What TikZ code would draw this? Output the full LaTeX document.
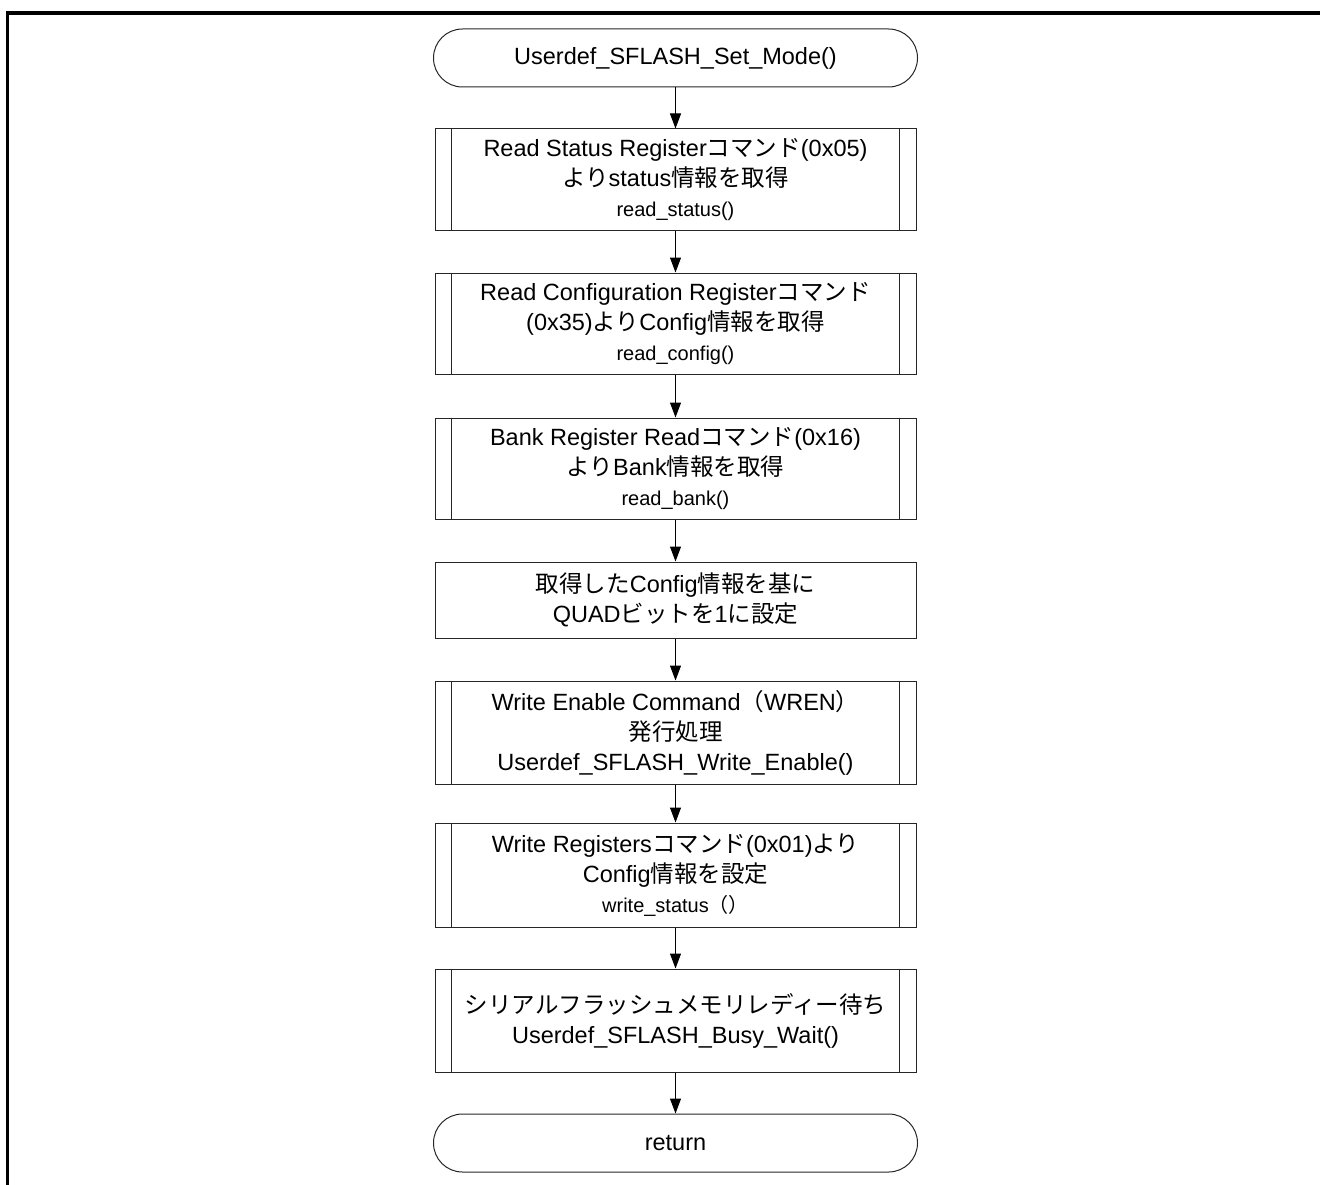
\documentclass[tikz,border=0pt]{standalone}
\usepackage{fontspec}
\setmainfont{Liberation Sans}
\newfontfamily\jp{Noto Sans CJK JP}
\newcommand\J[1]{{\jp #1}}
\usetikzlibrary{arrows.meta}
\tikzset{
  boxbase/.style={draw=black!85, line width=1pt, minimum width=481pt, inner sep=0pt, align=center,
    font=\fontsize{23.5}{30}\selectfont},
  procbox/.style={boxbase, rectangle},
  termbox/.style={boxbase, rectangle, rounded corners=28.9pt, minimum width=484pt, minimum height=58pt},
  flowarrow/.style={draw=black, line width=1pt, -{Triangle[length=15pt,width=11pt]}},
  subline/.style={draw=black!85, line width=1pt},
}
\newcommand\sm[1]{{\fontsize{20}{26}\selectfont #1}}
\begin{document}
\begin{tikzpicture}[x=1pt,y=-1pt]
\useasboundingbox (0,0) rectangle (1320,1185);
\draw[line width=3.5pt] (7.5,1185) -- (7.5,13) -- (1320,13);

\node[termbox] (start) at (675.5,58) {Userdef\_SFLASH\_Set\_Mode()};
\node[procbox, minimum height=102pt] (b1) at (675.5,180) {Read Status Register\J{コマンド}(0x05)\\\J{より}status\J{情報を取得}\\\sm{read\_status()}};
\node[procbox, minimum height=101pt] (b2) at (675.5,323.5) {Read Configuration Register\J{コマンド}\\(0x35)\J{より}Config\J{情報を取得}\\\sm{read\_config()}};
\node[procbox, minimum height=101pt] (b3) at (675.5,468.5) {Bank Register Read\J{コマンド}(0x16)\\\J{より}Bank\J{情報を取得}\\\sm{read\_bank()}};
\node[procbox, minimum height=76pt] (b4) at (675.5,600) {\J{取得した}Config\J{情報を基に}\\QUAD\J{ビットを}1\J{に設定}};
\node[procbox, minimum height=103pt] (b5) at (675.5,732.5) {Write Enable Command\J{（}WREN\J{）}\\\J{発行処理}\\Userdef\_SFLASH\_Write\_Enable()};
\node[procbox, minimum height=104pt] (b6) at (675.5,875) {Write Registers\J{コマンド}(0x01)\J{より}\\Config\J{情報を設定}\\\sm{write\_status\J{（）}}};
\node[procbox, minimum height=103pt] (b7) at (675.5,1020.5) {\J{シリアルフラッシュメモリレディー待ち}\\Userdef\_SFLASH\_Busy\_Wait()};
\node[termbox] (ret) at (675.5,1143) {return};

\foreach \b in {b1,b2,b3,b5,b6,b7}{
  \draw[subline] ([xshift=17pt]\b.north west) -- ([xshift=17pt]\b.south west);
  \draw[subline] ([xshift=-17pt]\b.north east) -- ([xshift=-17pt]\b.south east);
}

\draw[flowarrow] (start) -- (b1);
\draw[flowarrow] (b1) -- (b2);
\draw[flowarrow] (b2) -- (b3);
\draw[flowarrow] (b3) -- (b4);
\draw[flowarrow] (b4) -- (b5);
\draw[flowarrow] (b5) -- (b6);
\draw[flowarrow] (b6) -- (b7);
\draw[flowarrow] (b7) -- (ret);
\end{tikzpicture}
\end{document}
